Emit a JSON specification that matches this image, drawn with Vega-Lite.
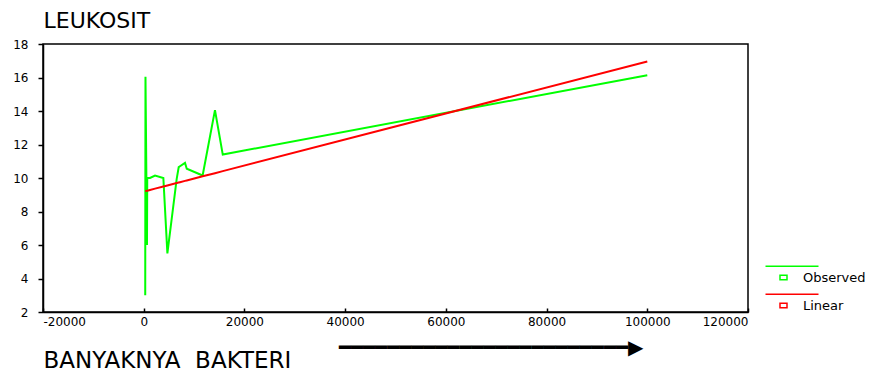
{
  "$schema": "https://vega.github.io/schema/vega-lite/v6.json",
  "autosize": "none",
  "width": 705,
  "height": 268,
  "padding": {"left": 43, "top": 44, "right": 131, "bottom": 59},
  "background": "white",
  "title": {
    "text": "━━━━━━━━━━━━━━━━━━━━━━━━▶",
    "orient": "bottom",
    "anchor": "start",
    "frame": "group",
    "baseline": "middle",
    "offset": 0,
    "dx": 296,
    "dy": -24,
    "font": "DejaVu Sans",
    "fontSize": 20,
    "fontWeight": "normal",
    "color": "black"
  },
  "data": {
    "values": [
      {"x": 300, "y": 3.0, "series": "Observed"},
      {"x": 350, "y": 16.05, "series": "Observed"},
      {"x": 650, "y": 6.0, "series": "Observed"},
      {"x": 700, "y": 10.0, "series": "Observed"},
      {"x": 1250, "y": 10.0, "series": "Observed"},
      {"x": 2250, "y": 10.15, "series": "Observed"},
      {"x": 3900, "y": 10.0, "series": "Observed"},
      {"x": 4700, "y": 5.5, "series": "Observed"},
      {"x": 6550, "y": 9.95, "series": "Observed"},
      {"x": 6950, "y": 10.65, "series": "Observed"},
      {"x": 7200, "y": 10.7, "series": "Observed"},
      {"x": 8200, "y": 10.9, "series": "Observed"},
      {"x": 8550, "y": 10.55, "series": "Observed"},
      {"x": 11700, "y": 10.15, "series": "Observed"},
      {"x": 14150, "y": 14.05, "series": "Observed"},
      {"x": 15700, "y": 11.4, "series": "Observed"},
      {"x": 100000, "y": 16.14, "series": "Observed"},
      {"x": 300, "y": 9.213, "series": "Linear"},
      {"x": 350, "y": 9.217, "series": "Linear"},
      {"x": 650, "y": 9.24, "series": "Linear"},
      {"x": 700, "y": 9.244, "series": "Linear"},
      {"x": 1250, "y": 9.287, "series": "Linear"},
      {"x": 2250, "y": 9.365, "series": "Linear"},
      {"x": 3900, "y": 9.493, "series": "Linear"},
      {"x": 4700, "y": 9.555, "series": "Linear"},
      {"x": 6550, "y": 9.699, "series": "Linear"},
      {"x": 6950, "y": 9.73, "series": "Linear"},
      {"x": 7200, "y": 9.749, "series": "Linear"},
      {"x": 8200, "y": 9.827, "series": "Linear"},
      {"x": 8550, "y": 9.854, "series": "Linear"},
      {"x": 11700, "y": 10.099, "series": "Linear"},
      {"x": 14150, "y": 10.289, "series": "Linear"},
      {"x": 15700, "y": 10.41, "series": "Linear"},
      {"x": 100000, "y": 16.96, "series": "Linear"}
    ]
  },
  "mark": {"type": "line", "strokeWidth": 2},
  "encoding": {
    "x": {
      "field": "x",
      "type": "quantitative",
      "scale": {"domain": [-20000, 120000], "nice": false, "zero": false},
      "axis": {
        "values": [-20000, 0, 20000, 40000, 60000, 80000, 100000, 120000],
        "labelExpr": "'' + datum.value",
        "title": "BANYAKNYA\u00a0 BAKTERI",
        "titleFont": "DejaVu Sans",
        "titleFontSize": 23,
        "titleFontWeight": "normal",
        "titleColor": "black",
        "titleAlign": "left",
        "titleAnchor": "start",
        "titleBaseline": "alphabetic",
        "titleX": 0,
        "titleY": 55,
        "tickSize": -4,
        "labelPadding": 8,
        "grid": false
      }
    },
    "y": {
      "field": "y",
      "type": "quantitative",
      "scale": {"domain": [2, 18], "nice": false, "zero": false},
      "axis": {
        "values": [2, 4, 6, 8, 10, 12, 14, 16, 18],
        "title": "LEUKOSIT",
        "titleFont": "DejaVu Sans",
        "titleFontSize": 22,
        "titleFontWeight": "normal",
        "titleColor": "black",
        "titleAngle": 0,
        "titleAlign": "left",
        "titleAnchor": "start",
        "titleBaseline": "alphabetic",
        "titleX": 0,
        "titleY": -17,
        "tickSize": 5,
        "labelPadding": 10,
        "grid": false
      }
    },
    "color": {
      "field": "series",
      "type": "nominal",
      "scale": {"domain": ["Observed", "Linear"], "range": ["#00ff00", "#ff0000"]},
      "legend": {
        "orient": "none",
        "legendX": 734,
        "legendY": 227,
        "title": null,
        "padding": 0,
        "symbolType": "M-18,-11.3H35M-3.5,-2.3H3.5V2.3H-3.5Z",
        "symbolSize": 4,
        "symbolStrokeWidth": 1.5,
        "symbolFillColor": "white",
        "labelFont": "DejaVu Sans",
        "labelFontSize": 13,
        "labelColor": "black",
        "labelOffset": 13,
        "rowPadding": 6
      }
    }
  },
  "config": {
    "view": {"stroke": "black", "strokeWidth": 1.5},
    "axis": {
      "domainColor": "black",
      "domainWidth": 1.5,
      "tickColor": "black",
      "tickWidth": 1.5,
      "labelFont": "DejaVu Sans",
      "labelFontSize": 12,
      "labelColor": "black"
    }
  }
}
